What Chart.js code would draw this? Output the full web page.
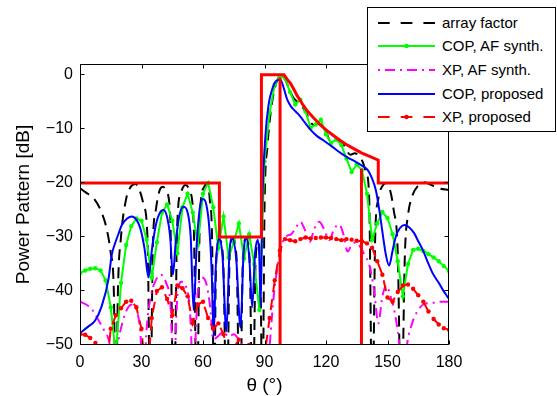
<!DOCTYPE html>
<html>
<head>
<meta charset="utf-8">
<title>Power pattern</title>
<script src="https://cdn.jsdelivr.net/npm/chart.js@4.4.1/dist/chart.umd.min.js"></script>
<style>
  html, body { margin: 0; padding: 0; background: #fff; }
  #wrap { position: relative; width: 557px; height: 396px; }
  #legend {
    position: absolute; left: 367px; top: 7px; width: 187px; height: 123px;
    border: 1px solid #000; background: #fff;
    font-family: "Liberation Sans", Arial, sans-serif; font-size: 15px; color: #000;
  }
  #legend .item { position: absolute; left: 0; width: 187px; height: 24px; }
  #legend svg { position: absolute; left: 0; top: 0; }
  #legend span { position: absolute; left: 74px; top: 0; line-height: 24px; white-space: nowrap; }
</style>
</head>
<body>
<div id="wrap">
  <canvas id="chart" width="557" height="396"></canvas>
  <div id="legend"></div>
</div>
<script>
// axis ticks
const xTicks = [0, 30, 60, 90, 120, 150, 180];
const yTicks = [-50, -40, -30, -20, -10, 0];

// array factor (black dashed)
const afTheta = [0, 3, 7, 10, 13, 15, 16.5, 17.5, 18.5, 20, 22.5, 25, 27, 29, 31, 33, 34.3, 35.5, 37, 39,
  40.5, 42, 44, 45.7, 47.5, 49.5, 51.5, 53.5, 55.5, 57, 58.5, 60.5, 62, 63.3, 64.5, 65.4, 66.3, 68, 69.8, 71.6,
  73, 74.6, 76.3, 78, 79.5, 81, 82.7, 84.3, 85.6, 86.8, 88, 89, 90, 91.5, 93, 95, 97, 98.5, 100, 102,
  104, 106, 108, 110, 112, 114, 116, 118, 120, 122, 124, 126, 128, 130, 132, 134, 136, 138, 139.5, 141,
  142.6, 144, 145.5, 147.5, 149.3, 151, 153, 155, 156.7, 158.5, 160, 162, 165, 168, 171, 175, 180];
const afDb = [-21, -21.8, -23, -25, -28.5, -33, -40, -65, -40, -30, -23, -20.6, -20.2, -21.3, -24, -31, -65, -32, -25, -21.2,
  -20.7, -21.5, -26, -65, -27, -21.5, -20.4, -21.5, -28, -65, -26, -20.8, -20.1, -23, -32, -65, -36, -30.5, -34, -65,
  -34, -30.3, -33.5, -65, -33.5, -30.3, -34, -65, -35, -31, -36, -65, -25, -13, -7, -2.5, -0.4, 0, -0.8, -2.6,
  -4.2, -5.0, -5.7, -6.8, -8.4, -9.3, -9.0, -9.7, -10.5, -12.2, -12.0, -12.1, -12.5, -14.0, -14.8, -14.5, -15.0, -16.2, -18, -22,
  -65, -30, -23, -20.6, -20, -21, -25, -33, -65, -33, -26, -22.5, -20.5, -19.9, -20.3, -21, -21.3];

// COP, proposed (blue)
const copPropTheta = [0, 4, 7.3, 10.6, 13.9, 15.5, 17, 18.7, 20.4, 23, 25.3, 27.5, 29.4, 31.5, 33.4, 35.2, 37, 39, 40.8, 42.6,
  44, 45.3, 46.7, 48.5, 50.5, 52.5, 54, 55.4, 57, 58.5, 60, 61.6, 63, 64.3, 65.2, 66.3, 67.7, 69.5, 71.4, 72.9,
  74.2, 76.2, 78.3, 79.8, 81.2, 82.6, 84, 85.4, 86.7, 87.5, 88.1, 89, 90.5, 92, 93.5, 95.5, 97.8, 99.5, 101, 102.8,
  104.4, 106, 107.6, 110, 112.5, 115.5, 119, 123, 127.2, 131, 134.5, 137.5, 140.3, 142.5, 144.3, 146, 147.6, 149.3, 150.8, 152.5,
  154, 156, 158.2, 160.5, 163, 165, 167.2, 170, 172, 175, 177, 180];
const copPropDb = [-47.8, -46.6, -45.5, -42.8, -37.8, -33.3, -31.3, -29.5, -27.8, -26.6, -26.2, -26.8, -28.4, -32.2, -37.5, -32, -27.8, -25.5, -25, -26.5,
  -30, -37, -31, -26, -24.4, -25.5, -30, -43.5, -31, -24.5, -23, -24, -28, -37, -48.5, -35, -30.4, -33.5, -47.5, -33,
  -30.2, -34, -46.8, -33, -30.2, -34, -43, -33, -30.5, -34, -43, -23, -11, -5.5, -3, -1.2, -0.9, -2.6, -4.5, -5.8,
  -6.5, -7.1, -7.8, -9.0, -10.2, -11.3, -12.2, -13.3, -14.5, -15.4, -16.1, -16.8, -17.6, -19.2, -21.3, -25, -29.3, -33.5, -35.3, -32.5,
  -30, -28.4, -27.8, -28.2, -29.3, -30.8, -32.4, -35, -36.7, -38.5, -39.8, -41.5];

// XP, AF synth. (magenta dash-dot)
const xpAfTheta = [0, 3, 6, 9, 12, 14.5, 16.5, 18.5, 21, 23.5, 25.5, 27.5, 29.5, 30.8, 32.5, 34.5, 37, 39.5, 42, 44,
  45.8, 47.5, 49.5, 51.5, 53.5, 55.3, 57.5, 59.5, 61.5, 63.5, 65, 67, 70, 72.5, 75, 77.5, 80, 83, 86, 89,
  92, 94.5, 97, 99, 101, 103, 105, 107.5, 109.5, 112, 114.3, 116.6, 119, 121.6, 124, 126.4, 128.5, 130.5, 132.5, 134.6,
  137, 139, 141, 143.5, 145.5, 147.5, 149.5, 151.5, 153.5, 155.5, 157.5, 159.5, 162, 165, 168, 172, 176, 180];
const xpAfDb = [-42, -42.5, -43.5, -45.4, -47.5, -50, -58, -50, -45.5, -43, -42.5, -43.5, -48, -58, -47, -41, -38, -37, -38.5, -42,
  -55, -41, -38.3, -39, -43, -55, -40, -37.5, -38.5, -43, -49, -48.5, -47.5, -48.5, -48, -49, -50.5, -52, -55, -58,
  -52, -41, -34, -30.8, -29.8, -29.5, -28.5, -27.2, -28.5, -31, -28.5, -27.2, -28.5, -30.6, -28.5, -27.7, -29.5, -32.7, -31.5, -31,
  -32, -33.5, -35, -40, -46, -41, -39, -41, -44, -49, -58, -50, -46, -43.5, -42.4, -42.2, -42, -42];

// sampled series (dots every 2.5 deg)
const gridTheta = [0, 2.5, 5, 7.5, 10, 12.5, 15, 17.5, 20, 22.5, 25, 27.5, 30, 32.5, 35, 37.5, 40, 42.5, 45, 47.5,
  50, 52.5, 55, 57.5, 60, 62.5, 65, 67.5, 70, 72.5, 75, 77.5, 80, 82.5, 85, 87.5, 90, 92.5, 95, 97.5,
  100, 102.5, 105, 107.5, 110, 112.5, 115, 117.5, 120, 122.5, 125, 127.5, 130, 132.5, 135, 137.5, 140, 142.5, 145, 147.5,
  150, 152.5, 155, 157.5, 160, 162.5, 165, 167.5, 170, 172.5, 175, 177.5, 180];
// COP, AF synth. (green)
const copAfDb = [-36.7, -36.2, -35.9, -35.8, -36.2, -38, -43, -52, -38.5, -31.5, -28, -26.6, -27, -30.5, -37.5, -31, -25.5, -24, -27, -33,
  -24.5, -22, -25.5, -31.5, -22, -20, -24.5, -32, -26.2, -33.8, -31, -27.5, -34, -29.5, -35, -43.5, -16, -7, -1.8, -0.2,
  -0.6, -3.2, -5.5, -4.6, -6.8, -9.8, -9.2, -8.3, -11, -12.6, -12, -13, -15.5, -18, -16.6, -17.6, -22, -30.5, -27.5, -25.4,
  -26.5, -29.5, -34.5, -41, -35, -32.4, -32.2, -32.6, -33.2, -33.8, -34.5, -35.4, -36.3];
// XP, proposed (red)
const xpPropDb = [-48, -48.1, -48.7, -49.6, -52, -56, -47, -44.5, -43.2, -42, -41.8, -43, -47, -58, -45, -40, -39.3, -41.5, -44.5, -39,
  -39.5, -41, -46, -42.5, -42, -45, -47, -46, -48, -52, -50.5, -49, -52, -50, -53, -56, -52, -45, -38, -32.5,
  -30.4, -30.6, -30.8, -30.4, -30.1, -30.3, -30.2, -30.1, -30.1, -30.2, -30.4, -30.6, -30.4, -30.5, -30.7, -30.8, -31.2, -32, -34.5, -37,
  -41.2, -42, -40.2, -39, -38.8, -39.6, -40.8, -42, -43.8, -45.2, -46.2, -46.9, -47.2];

// mask
const maskUpTheta = [0, 68, 68, 88.5, 88.5, 99.5, 101, 102.7, 104.5, 106, 108.5, 110.9, 114, 117.4, 121, 125.6, 129.5, 133.7, 137.5, 141.9, 145.5, 145.5, 180];
const maskUpDb = [-20, -20, -30, -30, 0, 0, -0.8, -1.6, -2.8, -3.9, -5.4, -6.7, -8.0, -9.3, -10.5, -11.8, -12.8, -13.7, -14.5, -15.2, -15.8, -20, -20];
const maskLoTheta = [97.6, 97.6, 117, 137.3, 137.3];
const maskLoDb = [-60, -0.5, null, -17.4, -60];

const FONT = '"Liberation Sans", Arial, sans-serif';
const pts = (xs, ys) => xs.map((x, i) => ({ x: x, y: ys[i] }));

// legend entries (drawn as html so it can hang over the axes corner)
const legendItems = [
  { label: 'array factor', color: '#000000', dash: '11.7 11', dot: false },
  { label: 'COP, AF synth.', color: '#00ff00', dash: '', dot: true },
  { label: 'XP, AF synth.', color: '#ff00ff', dash: '2 5 10 5', dot: false },
  { label: 'COP, proposed', color: '#0000ff', dash: '', dot: false },
  { label: 'XP, proposed', color: '#ff0000', dash: '11.7 11', dot: true }
];
const legendEl = document.getElementById('legend');
legendItems.forEach((it, i) => {
  const row = document.createElement('div');
  row.className = 'item';
  row.style.top = (2.7 + i * 23.65) + 'px';
  row.innerHTML =
    '<svg width="70" height="24"><line x1="10" y1="12" x2="67" y2="12" stroke="' + it.color + '" stroke-width="2"' +
    (it.dash ? ' stroke-dasharray="' + it.dash + '"' : '') + '/>' +
    (it.dot ? '<circle cx="38.5" cy="12" r="2.2" fill="' + it.color + '"/>' : '') + '</svg>' +
    '<span>' + it.label + '</span>';
  legendEl.appendChild(row);
});

// matlab style box with inward ticks on all four sides
const axisBox = {
  id: 'axisBox',
  afterDatasetsDraw(chart) {
    const { ctx, chartArea: a, scales } = chart;
    const l = Math.round(a.left) + 0.5, r = Math.round(a.right) - 0.5;
    const t = Math.round(a.top) + 0.5, b = Math.round(a.bottom) - 0.5;
    ctx.save();
    ctx.strokeStyle = '#000';
    ctx.lineWidth = 1;
    ctx.beginPath();
    ctx.rect(l, t, r - l, b - t);
    xTicks.forEach(v => {
      const px = Math.round(scales.x.getPixelForValue(v)) + 0.5;
      ctx.moveTo(px, b); ctx.lineTo(px, b - 4);
      ctx.moveTo(px, t); ctx.lineTo(px, t + 4);
    });
    yTicks.forEach(v => {
      const py = Math.round(scales.y.getPixelForValue(v)) - 0.5;
      ctx.moveTo(l, py); ctx.lineTo(l + 4, py);
      ctx.moveTo(r, py); ctx.lineTo(r - 4, py);
    });
    ctx.stroke();
    ctx.restore();
  }
};

new Chart(document.getElementById('chart'), {
  type: 'scatter',
  data: {
    datasets: [
      { label: 'mask', data: pts(maskUpTheta, maskUpDb), showLine: true, borderColor: '#ff0000', borderWidth: 3, pointRadius: 0, clip: 0 },
      { label: 'mask low', data: pts(maskLoTheta, maskLoDb), showLine: true, borderColor: '#ff0000', borderWidth: 3, pointRadius: 0, clip: 0 },
      { label: 'XP, proposed', data: pts(gridTheta, xpPropDb), showLine: true, borderColor: '#ff0000', borderWidth: 2, borderDash: [11, 7],
        pointRadius: 2.2, pointBorderWidth: 0, pointBackgroundColor: '#ff0000', clip: 0 },
      { label: 'COP, proposed', data: pts(copPropTheta, copPropDb), showLine: true, borderColor: '#0000ff', borderWidth: 2,
        pointRadius: 0, cubicInterpolationMode: 'monotone', clip: 0 },
      { label: 'XP, AF synth.', data: pts(xpAfTheta, xpAfDb), showLine: true, borderColor: '#ff00ff', borderWidth: 2, borderDash: [10, 5, 2, 5],
        pointRadius: 0, cubicInterpolationMode: 'monotone', clip: 0 },
      { label: 'COP, AF synth.', data: pts(gridTheta, copAfDb), showLine: true, borderColor: '#00ff00', borderWidth: 2,
        pointRadius: 2.2, pointBorderWidth: 0, pointBackgroundColor: '#00ff00', clip: 0 },
      { label: 'array factor', data: pts(afTheta, afDb), showLine: true, borderColor: '#000000', borderWidth: 2, borderDash: [11, 7],
        pointRadius: 0, cubicInterpolationMode: 'monotone', clip: 0 }
    ]
  },
  options: {
    responsive: false,
    animation: false,
    events: [],
    layout: { padding: { top: 64, right: 108, bottom: 0, left: 0 } },
    plugins: { legend: { display: false }, tooltip: { enabled: false } },
    scales: {
      x: {
        type: 'linear', min: 0, max: 180,
        afterBuildTicks: s => { s.ticks = xTicks.map(v => ({ value: v })); },
        afterFit: s => { s.height = 51; },
        grid: { display: false, drawTicks: false },
        border: { display: false },
        ticks: { color: '#000', padding: 8, maxRotation: 0, autoSkip: false, font: { family: FONT, size: 16 } },
        title: { display: true, text: 'θ (°)', color: '#000', font: { family: FONT, size: 19, lineHeight: 1 }, padding: { top: 0, bottom: 1 } }
      },
      y: {
        type: 'linear', min: -50, max: 2,
        afterBuildTicks: s => { s.ticks = yTicks.map(v => ({ value: v })); },
        afterFit: s => { s.width = 80; },
        grid: { display: false, drawTicks: false },
        border: { display: false },
        ticks: { color: '#000', padding: 7, autoSkip: false, font: { family: FONT, size: 16 },
          callback: v => String(v).replace('-', '\u2212') },
        title: { display: true, text: 'Power Pattern [dB]', color: '#000', font: { family: FONT, size: 19, lineHeight: 1 }, padding: { top: 14, bottom: 0 } }
      }
    }
  },
  plugins: [axisBox]
});
</script>
</body>
</html>
